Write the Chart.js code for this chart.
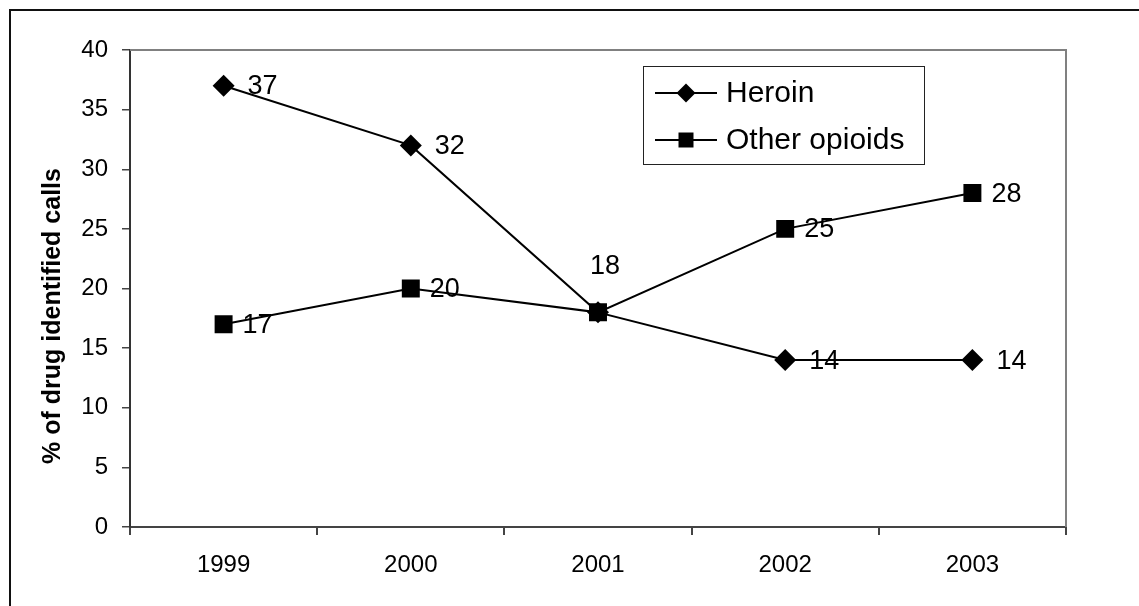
<!DOCTYPE html>
<html>
<head>
<meta charset="utf-8">
<script src="https://cdn.jsdelivr.net/npm/chart.js@4"></script>
<style>
  html, body { margin: 0; padding: 0; background: #ffffff; }
  canvas { display: block; }
</style>
</head>
<body>
<canvas id="chart" width="1139" height="606"></canvas>
<script>
// Share of drug-identified calls, by year
const years = ['1999', '2000', '2001', '2002', '2003'];
const heroin = [37, 32, 18, 14, 14];
const otherOpioids = [17, 20, 18, 25, 28];
const seriesNames = ['Heroin', 'Other opioids'];
const yAxisTitle = '% of drug identified calls';
const yMin = 0, yMax = 40, yStep = 5;

const FONT = '"Liberation Sans", Arial, sans-serif';

// White page with a dark frame along the left and top edges, plus the rotated axis title
const framePlugin = {
  id: 'frame',
  beforeDraw(chart) {
    const ctx = chart.ctx;
    ctx.save();
    ctx.fillStyle = '#ffffff';
    ctx.fillRect(0, 0, chart.width, chart.height);
    ctx.strokeStyle = '#111111';
    ctx.lineWidth = 2;
    ctx.strokeRect(10, 10, chart.width + 20, chart.height + 20);
    ctx.restore();
  },
  afterDraw(chart) {
    const ctx = chart.ctx;
    ctx.save();
    ctx.translate(53, 316);
    ctx.rotate(-Math.PI / 2);
    ctx.fillStyle = '#000000';
    ctx.font = 'bold 25px ' + FONT;
    ctx.textAlign = 'center';
    ctx.textBaseline = 'middle';
    ctx.fillText(yAxisTitle, 0, 0);
    ctx.restore();
  }
};

// Grey top and right edges of the plot area
const plotEdgePlugin = {
  id: 'plotEdge',
  beforeDatasetsDraw(chart) {
    const { ctx, chartArea: a } = chart;
    ctx.save();
    ctx.strokeStyle = '#808080';
    ctx.lineWidth = 2;
    ctx.beginPath();
    ctx.moveTo(a.left, a.top);
    ctx.lineTo(a.right, a.top);
    ctx.lineTo(a.right, a.bottom);
    ctx.stroke();
    ctx.restore();
  }
};

// Value labels beside each marker; a value shared by both series is written once, above
const valueLabelPlugin = {
  id: 'valueLabels',
  afterDatasetsDraw(chart) {
    const ctx = chart.ctx;
    const sets = chart.data.datasets;
    ctx.save();
    ctx.fillStyle = '#000000';
    ctx.font = '27px ' + FONT;
    sets.forEach((ds, i) => {
      const meta = chart.getDatasetMeta(i);
      meta.data.forEach((pt, j) => {
        const v = ds.data[j];
        const shared = sets.some((o, k) => k !== i && o.data[j] === v);
        const firstOwner = sets.findIndex(o => o.data[j] === v) === i;
        if (shared && !firstOwner) return;
        ctx.textBaseline = 'middle';
        if (shared) {
          ctx.textAlign = 'center';
          ctx.fillText(String(v), pt.x + 7, pt.y - 46);
        } else {
          ctx.textAlign = 'left';
          ctx.fillText(String(v), pt.x + ds.labelGap, pt.y + 1);
        }
      });
    });
    ctx.restore();
  }
};

// Boxed legend inside the plot area
const boxLegendPlugin = {
  id: 'boxLegend',
  afterDraw(chart) {
    const ctx = chart.ctx;
    const a = chart.chartArea;
    const bx = a.right - 423, by = a.top + 16, bw = 281, bh = 98;
    ctx.save();
    ctx.fillStyle = '#ffffff';
    ctx.fillRect(bx, by, bw, bh);
    ctx.strokeStyle = '#222222';
    ctx.lineWidth = 1;
    ctx.strokeRect(bx + 0.5, by + 0.5, bw, bh);
    ctx.font = '30px ' + FONT;
    ctx.textAlign = 'left';
    ctx.textBaseline = 'middle';
    chart.data.datasets.forEach((ds, i) => {
      const y = by + 27 + i * 47;
      const x0 = bx + 12, x1 = bx + 74, xm = (x0 + x1) / 2;
      ctx.strokeStyle = ds.borderColor;
      ctx.lineWidth = 2;
      ctx.beginPath();
      ctx.moveTo(x0, y);
      ctx.lineTo(x1, y);
      ctx.stroke();
      ctx.fillStyle = ds.pointBackgroundColor;
      ctx.beginPath();
      if (ds.pointStyle === 'rectRot') {
        const r = 9.5;
        ctx.moveTo(xm - r, y);
        ctx.lineTo(xm, y - r);
        ctx.lineTo(xm + r, y);
        ctx.lineTo(xm, y + r);
        ctx.closePath();
      } else {
        const h = 7.5;
        ctx.rect(xm - h, y - h, 2 * h, 2 * h);
      }
      ctx.fill();
      ctx.fillStyle = '#000000';
      ctx.fillText(ds.label, x1 + 9, y + 1);
    });
    ctx.restore();
  }
};

new Chart(document.getElementById('chart'), {
  type: 'line',
  data: {
    labels: years,
    datasets: [
      {
        label: seriesNames[0],
        data: heroin,
        borderColor: '#000000',
        borderWidth: 2,
        pointStyle: 'rectRot',
        pointRadius: 11,
        pointHoverRadius: 11,
        pointBackgroundColor: '#000000',
        pointBorderWidth: 0,
        tension: 0,
        labelGap: 24
      },
      {
        label: seriesNames[1],
        data: otherOpioids,
        borderColor: '#000000',
        borderWidth: 2,
        pointStyle: 'rect',
        pointRadius: 12.7,
        pointHoverRadius: 12.7,
        pointBackgroundColor: '#000000',
        pointBorderWidth: 0,
        tension: 0,
        labelGap: 19
      }
    ]
  },
  options: {
    responsive: false,
    animation: false,
    events: [],
    layout: { padding: { left: 0, top: 50, right: 73, bottom: 0 } },
    plugins: {
      legend: { display: false },
      tooltip: { enabled: false }
    },
    scales: {
      x: {
        type: 'category',
        offset: true,
        grid: {
          offset: true,
          drawOnChartArea: false,
          tickLength: 8,
          color: '#444444',
          lineWidth: 2
        },
        border: { display: true, color: '#444444', width: 2 },
        ticks: {
          color: '#000000',
          font: { family: FONT, size: 24 },
          padding: 16,
          maxRotation: 0
        },
        afterFit(scale) { scale.height = 79; }
      },
      y: {
        min: yMin,
        max: yMax,
        grid: {
          drawOnChartArea: false,
          tickLength: 8,
          color: '#444444',
          lineWidth: 1.5
        },
        border: { display: true, color: '#333333', width: 2 },
        ticks: {
          stepSize: yStep,
          color: '#000000',
          font: { family: FONT, size: 24 },
          padding: 14
        },
        afterFit(scale) { scale.width = 130; }
      }
    }
  },
  plugins: [framePlugin, plotEdgePlugin, valueLabelPlugin, boxLegendPlugin]
});
</script>
</body>
</html>
